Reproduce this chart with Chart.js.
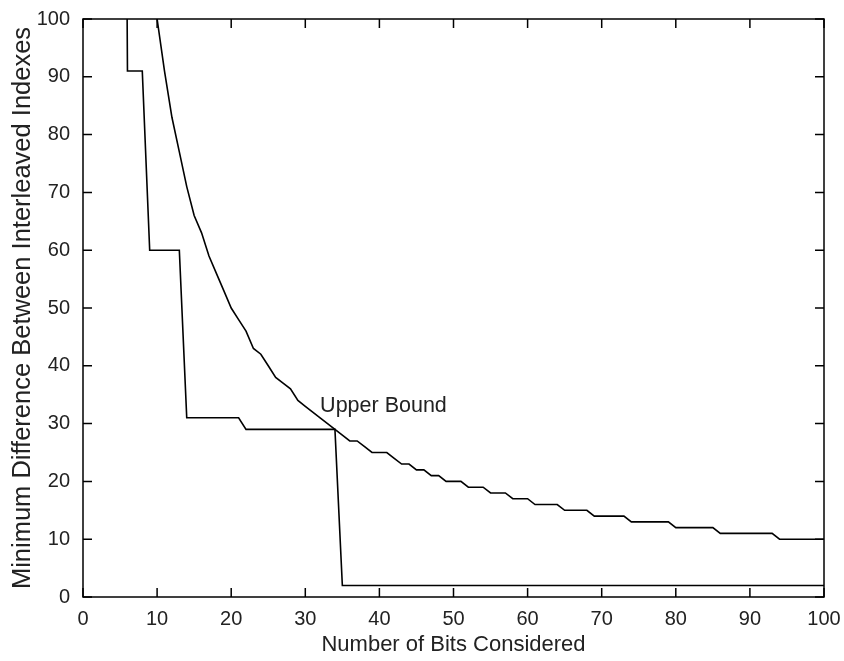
<!DOCTYPE html>
<html>
<head>
<meta charset="utf-8">
<script src="https://cdn.jsdelivr.net/npm/chart.js@4.4.1/dist/chart.umd.min.js"></script>
<style>
  html, body { margin: 0; padding: 0; background: #fff; }
</style>
</head>
<body>
<canvas id="BoundChart" width="844" height="661"></canvas>
<script>
const XTicks = [0, 10, 20, 30, 40, 50, 60, 70, 80, 90, 100];
const YTicks = [0, 10, 20, 30, 40, 50, 60, 70, 80, 90, 100];

// measured curve (break points only, the rest is flat)
const LowerBits = [5, 6, 8, 9, 13, 14, 21, 22, 34, 35, 100];
const LowerDiff = [300, 91, 91, 60, 60, 31, 31, 29, 29, 2, 2];

// upper bound, one value per bit count 10..100
const UpperBits = [10, 11, 12, 13, 14, 15, 16, 17, 18, 19, 20, 21, 22, 23, 24, 25, 26, 27, 28, 29,
  30, 31, 32, 33, 34, 35, 36, 37, 38, 39, 40, 41, 42, 43, 44, 45, 46, 47, 48, 49,
  50, 51, 52, 53, 54, 55, 56, 57, 58, 59, 60, 61, 62, 63, 64, 65, 66, 67, 68, 69,
  70, 71, 72, 73, 74, 75, 76, 77, 78, 79, 80, 81, 82, 83, 84, 85, 86, 87, 88, 89,
  90, 91, 92, 93, 94, 95, 96, 97, 98, 99, 100];
const UpperDiff = [100, 91, 83, 77, 71, 66, 63, 59, 56, 53, 50, 48, 46, 43, 42, 40, 38, 37, 36, 34,
  33, 32, 31, 30, 29, 28, 27, 27, 26, 25, 25, 25, 24, 23, 23, 22, 22, 21, 21, 20,
  20, 20, 19, 19, 19, 18, 18, 18, 17, 17, 17, 16, 16, 16, 16, 15, 15, 15, 15, 14,
  14, 14, 14, 14, 13, 13, 13, 13, 13, 13, 12, 12, 12, 12, 12, 12, 11, 11, 11, 11,
  11, 11, 11, 11, 10, 10, 10, 10, 10, 10, 10];

const LabelText = "Upper Bound";
const LabelAt = [32, 33];

const FONT = "'Liberation Sans', Arial, Helvetica, sans-serif";
const toPoints = (xs, ys) => xs.map((v, i) => ({ x: v, y: ys[i] }));

// MATLAB style box with inward ticks + the text label
const boxTicks = {
  id: "boxTicks",
  afterDatasetsDraw(chart) {
    const { ctx, chartArea: a, scales: { x, y } } = chart;
    ctx.save();
    ctx.strokeStyle = "#000";
    ctx.lineWidth = 1.5;
    ctx.strokeRect(a.left, a.top, a.right - a.left, a.bottom - a.top);
    ctx.beginPath();
    XTicks.forEach((v) => {
      const px = x.getPixelForValue(v);
      ctx.moveTo(px, a.bottom); ctx.lineTo(px, a.bottom - 9);
      ctx.moveTo(px, a.top); ctx.lineTo(px, a.top + 9);
    });
    YTicks.forEach((v) => {
      const py = y.getPixelForValue(v);
      ctx.moveTo(a.left, py); ctx.lineTo(a.left + 9, py);
      ctx.moveTo(a.right, py); ctx.lineTo(a.right - 9, py);
    });
    ctx.stroke();
    ctx.font = "21.5px " + FONT;
    ctx.fillStyle = "#222";
    ctx.textBaseline = "middle";
    ctx.fillText(LabelText, x.getPixelForValue(LabelAt[0]), y.getPixelForValue(LabelAt[1]));
    ctx.restore();
  }
};

const ctx = document.getElementById("BoundChart").getContext("2d");
new Chart(ctx, {
  type: "scatter",
  data: {
    datasets: [
      {
        label: "Interleaver",
        data: toPoints(LowerBits, LowerDiff),
        showLine: true,
        borderColor: "#000",
        borderWidth: 1.6,
        pointRadius: 0,
        tension: 0,
      },
      {
        label: "Upper Bound",
        data: toPoints(UpperBits, UpperDiff),
        showLine: true,
        borderColor: "#000",
        borderWidth: 1.6,
        pointRadius: 0,
        tension: 0,
      },
    ],
  },
  options: {
    responsive: false,
    animation: false,
    devicePixelRatio: 1,
    layout: { padding: { top: 19, right: 20, left: 0, bottom: 0 } },
    plugins: { legend: { display: false }, tooltip: { enabled: false } },
    scales: {
      x: {
        type: "linear",
        min: 0,
        max: 100,
        afterBuildTicks: (s) => { s.ticks = XTicks.map((v) => ({ value: v })); },
        afterFit: (s) => { s.height = 64; },
        grid: { display: false },
        border: { display: false },
        ticks: { color: "#222", padding: 2, maxRotation: 0, font: { family: FONT, size: 20 } },
        title: {
          display: true,
          text: "Number of Bits Considered",
          color: "#222",
          padding: { top: 0, bottom: 3 },
          font: { family: FONT, size: 22 },
        },
      },
      y: {
        type: "linear",
        min: 0,
        max: 100,
        afterBuildTicks: (s) => { s.ticks = YTicks.map((v) => ({ value: v })); },
        afterFit: (s) => { s.width = 83; },
        grid: { display: false },
        border: { display: false },
        ticks: { color: "#222", padding: 5, font: { family: FONT, size: 20 } },
        title: {
          display: true,
          text: "Minimum Difference Between Interleaved Indexes",
          color: "#222",
          padding: { top: 8, bottom: 0 },
          font: { family: FONT, size: 25.5 },
        },
      },
    },
  },
  plugins: [boxTicks],
});
</script>
</body>
</html>
